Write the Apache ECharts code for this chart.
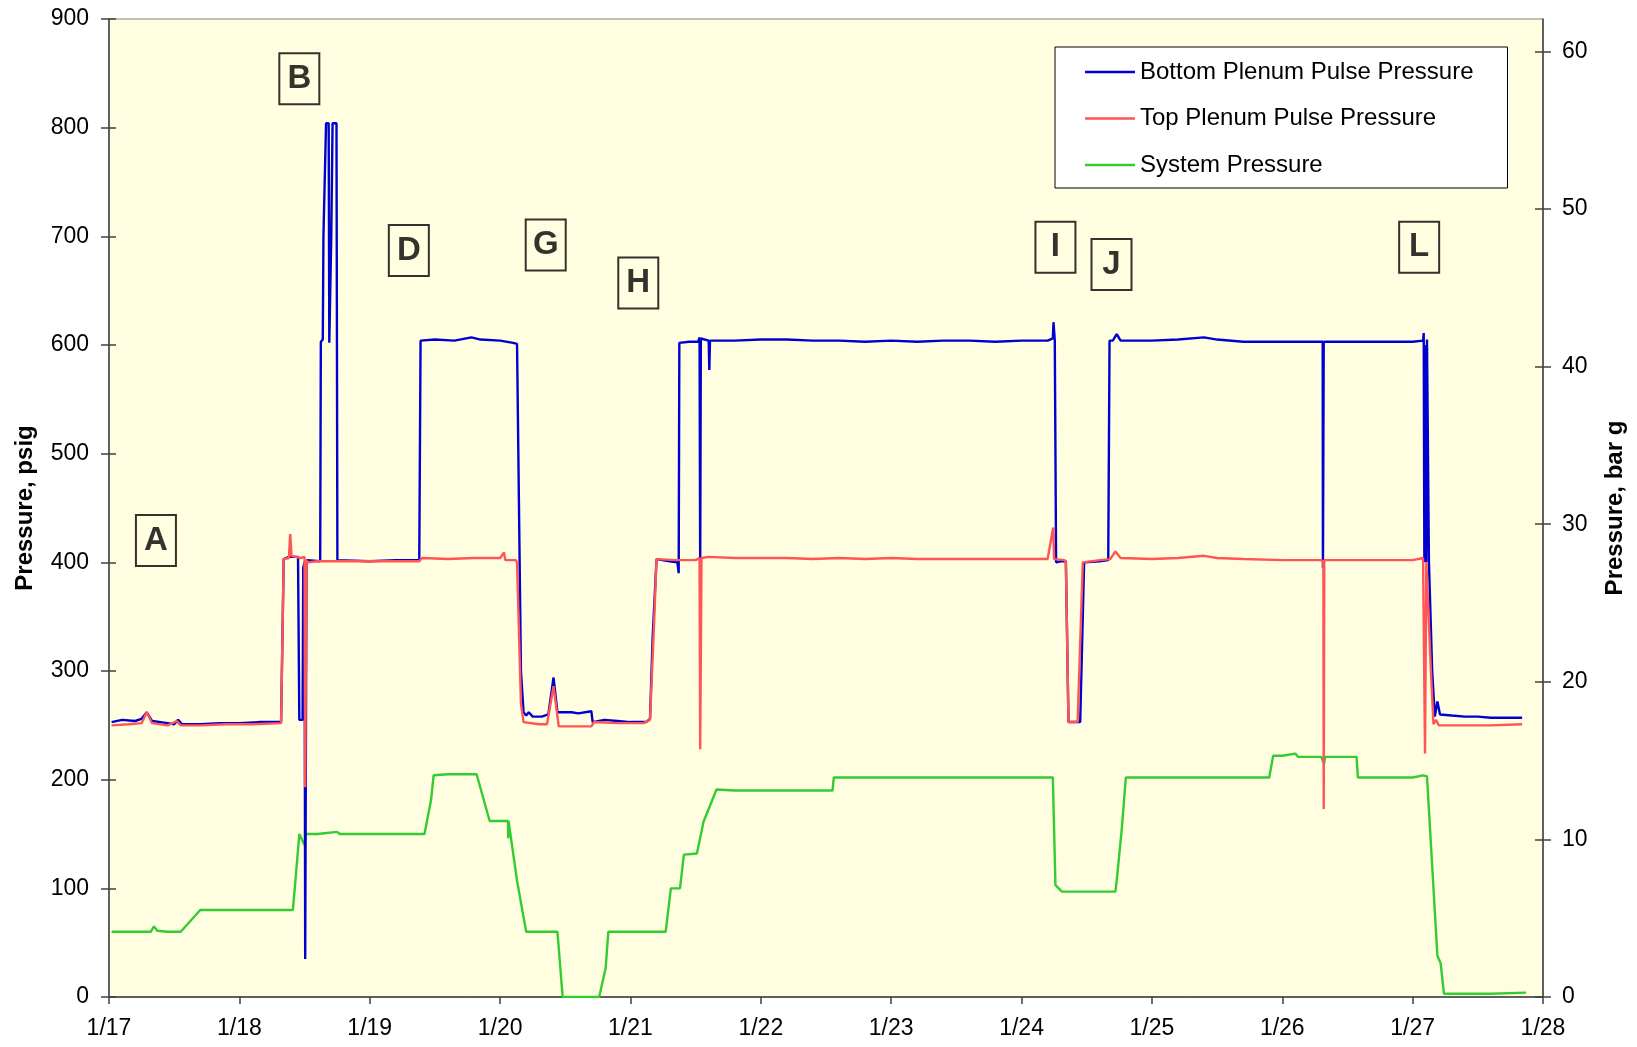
<!DOCTYPE html>
<html>
<head>
<meta charset="utf-8">
<title>Plenum Pulse Pressure and System Pressure</title>
<script src="https://cdn.jsdelivr.net/npm/echarts@6/dist/echarts.min.js"></script>
<style>
  html, body { margin: 0; padding: 0; background: #ffffff; }
  #chart { width: 1637px; height: 1047px; }
</style>
</head>
<body>
<div id="chart"></div>
<script>
// Time axis: day of January (1/17 .. 1/28), pressures in psig.
const dayTicks = ['1/17', '1/18', '1/19', '1/20', '1/21', '1/22', '1/23', '1/24', '1/25', '1/26', '1/27', '1/28'];
const psigTicks = [0, 100, 200, 300, 400, 500, 600, 700, 800, 900];
const barTicks = [0, 10, 20, 30, 40, 50, 60];
const PSI_PER_BAR = 14.5038;

const seriesNames = ['Bottom Plenum Pulse Pressure', 'Top Plenum Pulse Pressure', 'System Pressure'];

// [day, psig]
const bottomPlenum = [
  [17.02,253],[17.10,255],[17.20,254],[17.25,256],[17.29,262],[17.33,254],[17.45,252],[17.50,251],
  [17.53,255],[17.56,251],[17.70,251],[17.85,252],[18.00,252],[18.15,253],[18.32,253],[18.34,403],
  [18.38,405],[18.45,405],[18.46,255],[18.485,255],[18.49,395],[18.50,400],[18.505,35],[18.51,35],
  [18.515,400],[18.52,402],[18.62,401],[18.625,603],[18.64,605],[18.645,701],[18.66,702],[18.665,804],
  [18.685,804],[18.69,602],[18.70,602],[18.705,700],[18.715,804],[18.745,804],[18.752,402],[19.00,401],
  [19.20,402],[19.38,402],[19.39,604],[19.50,605],[19.65,604],[19.78,607],[19.85,605],[20.00,604],
  [20.10,602],[20.13,601],[20.16,300],[20.18,262],[20.20,259],[20.22,262],[20.25,258],[20.32,258],
  [20.37,260],[20.41,294],[20.44,262],[20.55,262],[20.60,261],[20.70,263],[20.71,253],[20.80,255],
  [20.90,254],[21.00,253],[21.12,253],[21.15,256],[21.17,330],[21.20,403],[21.30,401],[21.36,400],
  [21.37,390],[21.375,602],[21.45,603],[21.52,603],[21.53,607],[21.535,397],[21.54,606],[21.60,604],
  [21.605,577],[21.61,604],[21.80,604],[22.00,605],[22.20,605],[22.40,604],[22.60,604],[22.80,603],
  [23.00,604],[23.20,603],[23.40,604],[23.60,604],[23.80,603],[24.00,604],[24.20,604],[24.24,606],
  [24.245,621],[24.255,604],[24.265,400],[24.30,401],[24.34,401],[24.36,253],[24.45,253],[24.46,253],
  [24.48,400],[24.60,401],[24.665,402],[24.675,604],[24.70,604],[24.73,610],[24.76,604],[25.00,604],
  [25.20,605],[25.40,607],[25.50,605],[25.70,603],[26.00,603],[26.31,603],[26.312,395],[26.318,603],
  [26.50,603],[26.80,603],[27.00,603],[27.08,604],[27.085,611],[27.09,400],[27.095,600],[27.10,600],
  [27.105,400],[27.11,605],[27.12,605],[27.125,400],[27.15,300],[27.17,258],[27.19,272],[27.21,260],
  [27.30,259],[27.40,258],[27.50,258],[27.60,257],[27.70,257],[27.84,257]
];

const topPlenum = [
  [17.02,250],[17.15,251],[17.25,252],[17.29,262],[17.33,252],[17.45,250],[17.52,254],[17.55,250],
  [17.70,250],[17.90,251],[18.10,251],[18.32,252],[18.34,403],[18.38,404],[18.39,426],[18.40,406],
  [18.47,404],[18.50,405],[18.505,193],[18.51,300],[18.515,402],[18.52,400],[18.60,401],[18.80,401],
  [19.00,401],[19.20,401],[19.38,401],[19.40,404],[19.60,403],[19.80,404],[20.00,404],[20.03,409],
  [20.04,402],[20.12,402],[20.13,400],[20.16,270],[20.18,253],[20.30,251],[20.36,251],[20.41,286],
  [20.45,249],[20.60,249],[20.70,249],[20.72,253],[20.90,252],[21.10,252],[21.15,255],[21.18,340],
  [21.20,403],[21.35,402],[21.50,402],[21.53,404],[21.535,228],[21.545,404],[21.60,405],[21.80,404],
  [22.00,404],[22.20,404],[22.40,403],[22.60,404],[22.80,403],[23.00,404],[23.20,403],[23.50,403],
  [23.80,403],[24.00,403],[24.20,403],[24.243,432],[24.25,403],[24.33,402],[24.34,400],[24.36,253],
  [24.43,253],[24.47,400],[24.60,402],[24.68,403],[24.72,410],[24.76,404],[25.00,403],[25.20,404],
  [25.40,406],[25.50,404],[25.70,403],[26.00,402],[26.30,402],[26.315,400],[26.318,173],[26.322,402],
  [26.50,402],[26.80,402],[27.00,402],[27.08,404],[27.09,404],[27.095,224],[27.10,224],[27.105,400],
  [27.12,400],[27.14,300],[27.16,251],[27.18,255],[27.20,250],[27.40,250],[27.60,250],[27.84,251]
];

const systemPressure = [
  [17.02,60],[17.20,60],[17.32,60],[17.345,65],[17.37,61],[17.45,60],[17.55,60],[17.70,80],
  [17.90,80],[18.10,80],[18.30,80],[18.41,80],[18.425,100],[18.44,100],[18.46,150],[18.47,149],
  [18.50,140],[18.51,150],[18.60,150],[18.75,152],[18.77,150],[19.00,150],[19.20,150],[19.42,150],
  [19.47,181],[19.49,204],[19.60,205],[19.82,205],[19.92,162],[20.00,162],[20.06,162],[20.062,146],
  [20.065,162],[20.07,162],[20.13,107],[20.20,60],[20.30,60],[20.44,60],[20.48,0],[20.60,0],
  [20.76,0],[20.81,27],[20.83,60],[21.00,60],[21.27,60],[21.31,100],[21.38,100],[21.41,131],
  [21.51,132],[21.56,161],[21.60,173],[21.66,191],[21.80,190],[22.00,190],[22.30,190],[22.55,190],
  [22.56,202],[22.80,202],[23.00,202],[23.30,202],[23.60,202],[24.00,202],[24.24,202],[24.26,103],
  [24.31,97],[24.50,97],[24.72,97],[24.73,107],[24.77,156],[24.80,202],[25.00,202],[25.30,202],
  [25.60,202],[25.90,202],[25.93,222],[26.00,222],[26.10,224],[26.12,221],[26.30,221],[26.32,214],
  [26.33,221],[26.57,221],[26.58,202],[26.80,202],[27.00,202],[27.08,204],[27.11,203],[27.19,38],
  [27.215,31],[27.24,3],[27.40,3],[27.60,3],[27.87,4]
];

// Event markers
const eventLetters = ['A', 'B', 'D', 'G', 'H', 'I', 'J', 'L'];
const eventDays    = [17.36, 18.46, 19.30, 20.35, 21.06, 24.26, 24.69, 27.05];
const eventPsig    = [420, 845, 687, 692, 657, 690, 674, 690];

const FONT = '"Liberation Sans", Arial, sans-serif';
const AXIS_COLOR = '#404040';

const chart = echarts.init(document.getElementById('chart'), null, { renderer: 'canvas' });

const lineSeries = (name, data, color, z) => ({
  name: name,
  type: 'line',
  data: data,
  xAxisIndex: 0,
  yAxisIndex: 0,
  symbol: 'none',
  showSymbol: false,
  lineStyle: { color: color, width: 2.4 },
  itemStyle: { color: color },
  z: z,
  silent: true
});

const psigMax = psigTicks[psigTicks.length - 1];

chart.setOption({
  animation: false,
  backgroundColor: '#ffffff',
  textStyle: { fontFamily: FONT, color: '#000' },
  grid: {
    left: 109, right: 94, top: 19, bottom: 50,
    show: true,
    backgroundColor: '#FFFEE0',
    borderColor: '#808080',
    borderWidth: 1
  },
  legend: {
    data: seriesNames,
    orient: 'vertical',
    left: 1055,
    top: 47,
    padding: [13, 34, 11, 30],
    itemGap: 22.5,
    itemWidth: 50,
    itemHeight: 2.5,
    icon: 'rect',
    backgroundColor: '#ffffff',
    borderColor: '#000',
    borderWidth: 1,
    textStyle: { fontFamily: FONT, fontSize: 24, color: '#000' }
  },
  xAxis: {
    type: 'value',
    min: 17, max: 28, interval: 1,
    axisLine: { show: true, lineStyle: { color: AXIS_COLOR, width: 1.5 } },
    axisTick: { show: true, length: 7, lineStyle: { color: AXIS_COLOR, width: 1.5 } },
    axisLabel: {
      margin: 20, fontSize: 23, color: '#000', fontFamily: FONT,
      formatter: v => dayTicks[Math.round(v) - 17] || ''
    },
    splitLine: { show: false }
  },
  yAxis: [
    {
      type: 'value', position: 'left',
      min: 0, max: psigMax, interval: 100,
      name: 'Pressure, psig', nameLocation: 'middle', nameGap: 72,
      nameTextStyle: { fontSize: 24, fontWeight: 'bold', color: '#000', fontFamily: FONT },
      axisLine: { show: true, lineStyle: { color: AXIS_COLOR, width: 1.5 } },
      axisTick: { show: true, length: 8, lineStyle: { color: AXIS_COLOR, width: 1.5 } },
      axisLabel: { margin: 20, fontSize: 23, color: '#000', fontFamily: FONT,
                   formatter: v => psigTicks.includes(v) ? String(v) : '' },
      splitLine: { show: false }
    },
    {
      type: 'value', position: 'right',
      min: 0, max: psigMax / PSI_PER_BAR,
      name: 'Pressure, bar g', nameLocation: 'middle', nameGap: 60,
      nameTextStyle: { fontSize: 24, fontWeight: 'bold', color: '#000', fontFamily: FONT },
      axisLine: { show: true, lineStyle: { color: AXIS_COLOR, width: 1.5 } },
      axisTick: { show: true, length: 8, customValues: barTicks, lineStyle: { color: AXIS_COLOR, width: 1.5 } },
      axisLabel: { margin: 19, fontSize: 23, color: '#000', fontFamily: FONT, customValues: barTicks },
      splitLine: { show: false }
    },
    {
      // inner half of the crossing ticks on the psig axis
      type: 'value', position: 'left',
      min: 0, max: psigMax, interval: 100,
      axisLine: { show: false },
      axisTick: { show: true, inside: true, length: 7, lineStyle: { color: AXIS_COLOR, width: 1.5 } },
      axisLabel: { show: false },
      splitLine: { show: false }
    },
    {
      // inner half of the crossing ticks on the bar axis
      type: 'value', position: 'right',
      min: 0, max: psigMax / PSI_PER_BAR,
      axisLine: { show: false },
      axisTick: { show: true, inside: true, length: 8, customValues: barTicks, lineStyle: { color: AXIS_COLOR, width: 1.5 } },
      axisLabel: { show: false },
      splitLine: { show: false }
    }
  ],
  series: [
    lineSeries(seriesNames[2], systemPressure, '#33CC33', 2),
    lineSeries(seriesNames[0], bottomPlenum, '#0000D0', 3),
    lineSeries(seriesNames[1], topPlenum, '#FF5555', 4),
    {
      name: 'events',
      type: 'scatter',
      xAxisIndex: 0,
      yAxisIndex: 0,
      symbolSize: 0,
      silent: true,
      z: 6,
      data: eventLetters.map((t, i) => ({ name: t, value: [eventDays[i], eventPsig[i]] })),
      label: {
        show: true,
        position: 'inside',
        formatter: '{b}',
        fontFamily: FONT,
        fontSize: 33,
        fontWeight: 'bold',
        color: '#000',
        width: 40,
        height: 51,
        lineHeight: 51,
        align: 'center',
        verticalAlign: 'middle',
        borderColor: '#000',
        borderWidth: 2,
        padding: 0
      }
    }
  ]
});
</script>
</body>
</html>
